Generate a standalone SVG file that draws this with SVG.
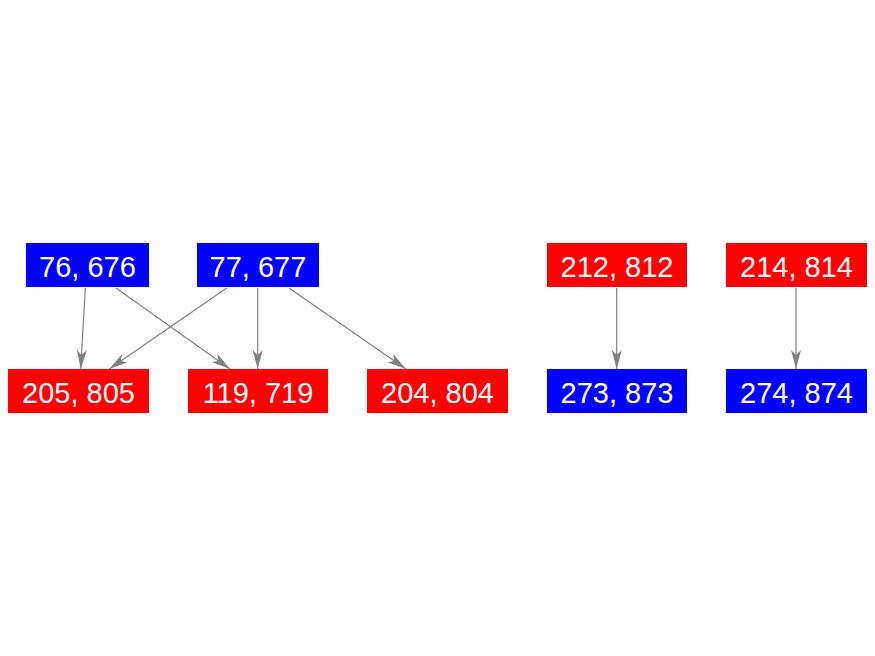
<svg xmlns="http://www.w3.org/2000/svg" width="875" height="656" viewBox="0 0 875 656">
<style>
.blue{fill:#0000ff}
.red{fill:#ff0000}
.lbl{font-family:"Liberation Sans",Arial,sans-serif;font-size:29px;fill:#ffffff;text-anchor:middle}
.edge{stroke:#808080;stroke-width:1.2;fill:none;marker-end:url(#arr)}
</style>
<defs>
<marker id="arr" markerUnits="userSpaceOnUse" markerWidth="20" markerHeight="12" refX="19" refY="5" orient="auto">
<path d="M0,0 L19,5 L0,10 L5,5 z" fill="#808080"/>
</marker>
</defs>
<rect width="875" height="656" fill="#ffffff"/>
<g id="edges">
<line class="edge" x1="85.3" y1="288" x2="80.7" y2="369"/>
<line class="edge" x1="116" y1="288" x2="230" y2="369"/>
<line class="edge" x1="226.7" y1="288" x2="109.3" y2="369"/>
<line class="edge" x1="257.7" y1="288" x2="257.7" y2="369"/>
<line class="edge" x1="289" y1="288" x2="406" y2="369"/>
<line class="edge" x1="616.7" y1="288" x2="616.7" y2="369"/>
<line class="edge" x1="796" y1="288" x2="796" y2="369"/>
</g>
<g id="n76"><rect class="blue" x="26" y="243" width="123" height="44"/><text class="lbl" x="87.5" y="276.5">76, 676</text></g>
<g id="n77"><rect class="blue" x="197" y="243" width="122" height="44"/><text class="lbl" x="258" y="276.5">77, 677</text></g>
<g id="n212"><rect class="red" x="547" y="243" width="140" height="44"/><text class="lbl" x="617" y="276.5">212, 812</text></g>
<g id="n214"><rect class="red" x="726" y="243" width="141" height="44"/><text class="lbl" x="796.5" y="276.5">214, 814</text></g>
<g id="n205"><rect class="red" x="8" y="369" width="141" height="44"/><text class="lbl" x="78.5" y="402.5">205, 805</text></g>
<g id="n119"><rect class="red" x="188" y="369" width="140" height="44"/><text class="lbl" x="258" y="402.5">119, 719</text></g>
<g id="n204"><rect class="red" x="367" y="369" width="141" height="44"/><text class="lbl" x="437.5" y="402.5">204, 804</text></g>
<g id="n273"><rect class="blue" x="547" y="369" width="140" height="44"/><text class="lbl" x="617" y="402.5">273, 873</text></g>
<g id="n274"><rect class="blue" x="726" y="369" width="141" height="44"/><text class="lbl" x="796.5" y="402.5">274, 874</text></g>
</svg>
